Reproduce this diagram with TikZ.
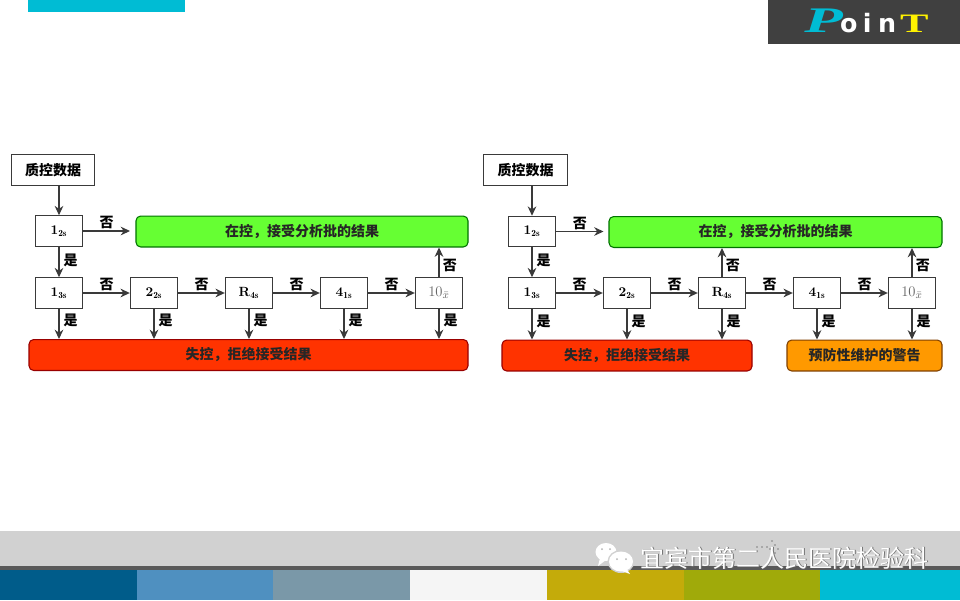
\documentclass[tikz,border=0pt]{standalone}
\usepackage{amsmath,amssymb}
\usepackage{fontspec}
\usepackage{xcolor}
\usepackage{tikz}
\usetikzlibrary{arrows.meta,positioning,calc}
\newfontfamily\cjk{Noto Sans CJK SC}
\newfontfamily\logoserif{Liberation Serif}
\newfontfamily\logosans{DejaVu Sans}
\definecolor{linegray}{HTML}{3A3A3A}
\definecolor{okgreen}{HTML}{66FF33}
\definecolor{badred}{HTML}{FF3300}
\definecolor{warnorange}{HTML}{FF9900}
\definecolor{barcyan}{HTML}{00BCD4}
\tikzset{
  qcbox/.style={draw=linegray,line width=.8pt,fill=white,minimum width=62.5pt,minimum height=23pt,inner sep=0pt,font=\cjk\bfseries\fontsize{10.5}{12}\selectfont},
  rulebox/.style={draw=linegray,line width=.7pt,fill=white,minimum width=35.6pt,minimum height=23pt,inner sep=0pt,font=\bfseries\fontsize{10}{12}\selectfont},
  resultbox/.style={rounded corners=3.5pt,line width=.8pt,minimum height=23.2pt,inner sep=0pt,text=black!85,font=\cjk\bfseries\fontsize{10.5}{12}\selectfont},
  flow/.style={->,draw=linegray,line width=.8pt},
  nolabel/.style={inner sep=1pt,font=\cjk\bfseries\fontsize{10.5}{12}\selectfont},
  yeslabel/.style={right,inner sep=3pt,font=\cjk\bfseries\fontsize{10.5}{12}\selectfont},
}
\newcommand{\rulename}[2]{#1$_{\mathbf{#2}}$}
\begin{document}
\begin{tikzpicture}[>={Stealth[length=7pt,width=6.5pt]},x=.75pt,y=-.75pt]
\useasboundingbox (0,0) rectangle (960,600);
\fill[white] (0,0) rectangle (960,600);
% top bar and badge
\fill[barcyan] (28,0) rectangle (185,12);
\fill[black!75] (768,0) rectangle (960,44);
\node[inner sep=0pt,anchor=base west] (badge) at (804,32) {\logoserif\bfseries\itshape\fontsize{27}{27}\selectfont\textcolor{barcyan}{\scalebox{1.75}[1]{P}}\kern-2pt\logosans\bfseries\upshape\fontsize{19}{19}\selectfont\textcolor{white}{o\kern4pt i\kern5pt n}\kern3pt\logoserif\bfseries\fontsize{20}{20}\selectfont\textcolor{yellow}{\scalebox{1.6}[1]{T}}};
% left chart
\node[qcbox] (lqc) at (53,170) {质控数据};
\node[rulebox] (l12) at (59,231) {\rulename{1}{2s}};
\node[rulebox] (l13) at (59,293) {\rulename{1}{3s}};
\node[rulebox] (l22) at (154,293) {\rulename{2}{2s}};
\node[rulebox] (lr4) at (249,293) {\rulename{R}{4s}};
\node[rulebox] (l41) at (344,293) {\rulename{4}{1s}};
\node[rulebox,font=\fontsize{11}{12}\selectfont,text=black!60] (l10) at (439,293) {10$_{\bar{x}}$};
\node[resultbox,draw=green!45!black,fill=okgreen,minimum width=249pt] (lgreen) at (302,231.5) {在控，接受分析批的结果};
\node[resultbox,draw=red!60!black,fill=badred,minimum width=329.25pt] (lred) at (248.5,355) {失控，拒绝接受结果};
\coordinate (lgo) at (130,231);
\draw[flow] (l12.north |- lqc.south) -- (l12.north);
\draw[flow] (l12) -- node[above,nolabel] (lno1) {否} (lgo);
\draw[flow] (l12) -- node[yeslabel,pos=.45] (lyes1) {是} (l13);
\draw[flow] (l13) -- node[above,nolabel] (lno2) {否} (l22);
\draw[flow] (l22) -- node[above,nolabel] (lno3) {否} (lr4);
\draw[flow] (lr4) -- node[above,nolabel] (lno4) {否} (l41);
\draw[flow] (l41) -- node[above,nolabel] (lno5) {否} (l10);
\draw[flow] (l10) -- node[yeslabel,pos=.4,xshift=-.5pt] (lno6) {否} (l10 |- lgreen.south);
\draw[flow] (l13) -- node[yeslabel,pos=.4] (lyes2) {是} (l13 |- lred.north);
\draw[flow] (l22) -- node[yeslabel,pos=.4] (lyes3) {是} (l22 |- lred.north);
\draw[flow] (lr4) -- node[yeslabel,pos=.4] (lyes4) {是} (lr4 |- lred.north);
\draw[flow] (l41) -- node[yeslabel,pos=.4] (lyes5) {是} (l41 |- lred.north);
\draw[flow] (l10) -- node[yeslabel,pos=.4] (lyes6) {是} (l10 |- lred.north);
% right chart
\node[qcbox] (rqc) at (525.5,170) {质控数据};
\node[rulebox] (r12) at (532,231.5) {\rulename{1}{2s}};
\node[rulebox] (r13) at (532,293) {\rulename{1}{3s}};
\node[rulebox] (r22) at (627,293) {\rulename{2}{2s}};
\node[rulebox] (rr4) at (722,293) {\rulename{R}{4s}};
\node[rulebox] (r41) at (817,293) {\rulename{4}{1s}};
\node[rulebox,font=\fontsize{11}{12}\selectfont,text=black!60] (r10) at (912,293) {10$_{\bar{x}}$};
\node[resultbox,draw=green!45!black,fill=okgreen,minimum width=249.75pt] (rgreen) at (775.5,232) {在控，接受分析批的结果};
\node[resultbox,draw=red!60!black,fill=badred,minimum width=187.5pt] (rred) at (627,355.5) {失控，拒绝接受结果};
\node[resultbox,draw=orange!50!black,fill=warnorange,minimum width=116.25pt] (rorange) at (864.5,355.5) {预防性维护的警告};
\coordinate (rgo) at (603.5,231.5);
\draw[flow] (r12.north |- rqc.south) -- (r12.north);
\draw[flow] (r12) -- node[above,nolabel] (rno1) {否} (rgo);
\draw[flow] (r12) -- node[yeslabel,pos=.45] (ryes1) {是} (r13);
\draw[flow] (r13) -- node[above,nolabel] (rno2) {否} (r22);
\draw[flow] (r22) -- node[above,nolabel] (rno3) {否} (rr4);
\draw[flow] (rr4) -- node[above,nolabel] (rno4) {否} (r41);
\draw[flow] (r41) -- node[above,nolabel] (rno5) {否} (r10);
\draw[flow] (rr4) -- node[yeslabel,pos=.4,xshift=-.5pt] (rno6) {否} (rr4 |- rgreen.south);
\draw[flow] (r10) -- node[yeslabel,pos=.4,xshift=-.5pt] (rno7) {否} (r10 |- rgreen.south);
\draw[flow] (r13) -- node[yeslabel,pos=.4] (ryes2) {是} (r13 |- rred.north);
\draw[flow] (r22) -- node[yeslabel,pos=.4] (ryes3) {是} (r22 |- rred.north);
\draw[flow] (rr4) -- node[yeslabel,pos=.4] (ryes4) {是} (rr4 |- rred.north);
\draw[flow] (r41) -- node[yeslabel,pos=.4] (ryes5) {是} (r41 |- rorange.north);
\draw[flow] (r10) -- node[yeslabel,pos=.4] (ryes6) {是} (r10 |- rorange.north);
% footer
\fill[black!18] (0,531) rectangle (960,566);
\fill[black!65] (0,566) rectangle (960,570);
\foreach \xa/\xb/\barcol in {0/137/005C8A,137/273/4F90C0,273/410/7A98A8,410/547/F5F5F5,547/684/C4AB0A,684/820/A0AA0A,820/960/00BCD4}{
  \definecolor{stripe}{HTML}{\barcol}
  \fill[stripe] (\xa,570) rectangle (\xb,600);
}
% wechat mark
\fill[white] (606,552) ellipse (10.5 and 9);
\fill[white] (600,558) -- (598,566) -- (606,560) -- cycle;
\fill[black!18] (621,561.5) ellipse (13.5 and 11.5);
\fill[white] (621,561.5) ellipse (12 and 10);
\fill[white] (626,568) -- (630,574) -- (619,570) -- cycle;
\fill[black!30] (602,549) circle (1) (610,549) circle (1) (617,559) circle (1) (626,559) circle (1);
% faint dots behind the mark
\foreach \dx/\dy in {772/541,775/545,778/549,770/549,767/547,762/547,757/547,775/553}{
  \fill[black!50] (\dx,\dy) circle (.9);
}
\node[inner sep=0pt,anchor=west,text=black!55] (markshade) at (640.8,558.6) {\cjk\fontsize{18}{20}\selectfont 宜宾市第二人民医院检验科};
\node[inner sep=0pt,anchor=west,text=white] (mark) at (640,558) {\cjk\fontsize{18}{20}\selectfont 宜宾市第二人民医院检验科};
\end{tikzpicture}
\end{document}
